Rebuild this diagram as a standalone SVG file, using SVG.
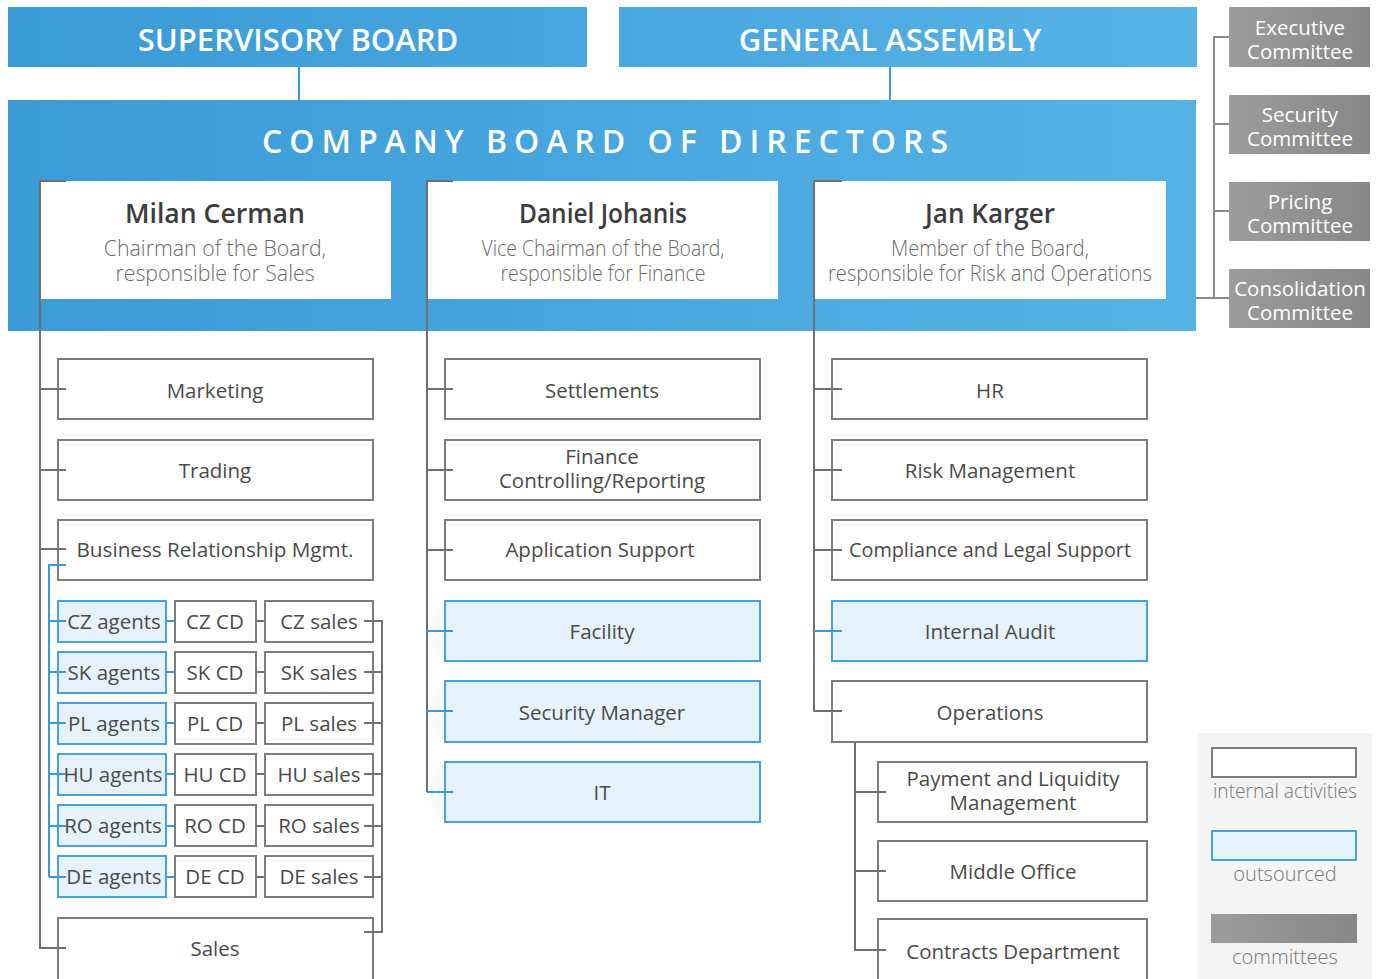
<svg xmlns="http://www.w3.org/2000/svg" width="1384" height="979" viewBox="0 0 1384 979">
<defs>
<linearGradient id="blueG" gradientUnits="userSpaceOnUse" x1="8" y1="0" x2="1197" y2="0">
<stop offset="0" stop-color="#3a9ad6"/><stop offset="1" stop-color="#56b3e6"/>
</linearGradient>
<linearGradient id="grayG" x1="0" y1="0" x2="1" y2="0">
<stop offset="0" stop-color="#9c9c9c"/><stop offset="1" stop-color="#878787"/>
</linearGradient>
<style>
text{font-family:"Open Sans","Noto Sans","Liberation Sans",sans-serif;}
.hdr{fill:#fff;font-size:31px;font-weight:600;text-anchor:middle;}
.ttl{fill:#fff;font-size:32px;font-weight:600;}
.name{fill:#3d3d3d;font-size:26.6px;font-weight:600;text-anchor:middle;}
.sub{fill:#6a6a6a;font-size:21.3px;font-weight:300;text-anchor:middle;}
.dep{fill:#4a4a4a;font-size:20.5px;text-anchor:middle;}
.com{fill:#fff;font-size:20.5px;text-anchor:middle;}
.leg{fill:#777;font-size:20px;font-weight:300;text-anchor:middle;}
.box{fill:#fff;stroke:#7d7d7d;stroke-width:2;}
.out{fill:#e6f2fb;stroke:#45a2de;stroke-width:2;}
.gl{stroke:#707070;stroke-width:2;fill:none;}
.bl{stroke:#3a9ad9;stroke-width:2;fill:none;}
.cm{fill:url(#grayG);}
</style>
</defs>

<!-- top boards -->
<g id="supervisory-board">
<rect x="8" y="7" width="579" height="60" fill="url(#blueG)"/>
<text class="hdr" x="298" y="51">SUPERVISORY BOARD</text>
</g>
<g id="general-assembly">
<rect x="619" y="7" width="578" height="60" fill="url(#blueG)"/>
<text class="hdr" x="890" y="51">GENERAL ASSEMBLY</text>
</g>
<g id="company-board">
<rect x="8" y="100" width="1188" height="231" fill="url(#blueG)"/>
<text class="ttl" x="262" y="153" textLength="686" lengthAdjust="spacing">COMPANY BOARD OF DIRECTORS</text>
</g>

<!-- board members -->
<g id="milan-cerman">
<rect x="41" y="181" width="350" height="118" fill="#fff"/>
<text class="name" x="215" y="223">Milan Cerman</text>
<text class="sub" x="215" y="256">Chairman of the Board,</text>
<text class="sub" x="215" y="281">responsible for Sales</text>
</g>
<g id="daniel-johanis">
<rect x="427" y="181" width="351" height="118" fill="#fff"/>
<text class="name" x="603" y="223" textLength="168" lengthAdjust="spacingAndGlyphs">Daniel Johanis</text>
<text class="sub" x="603" y="256" textLength="243" lengthAdjust="spacingAndGlyphs">Vice Chairman of the Board,</text>
<text class="sub" x="603" y="281" textLength="205" lengthAdjust="spacingAndGlyphs">responsible for Finance</text>
</g>
<g id="jan-karger">
<rect x="814" y="181" width="352" height="118" fill="#fff"/>
<text class="name" x="990" y="223" textLength="130" lengthAdjust="spacingAndGlyphs">Jan Karger</text>
<text class="sub" x="990" y="256" textLength="198" lengthAdjust="spacingAndGlyphs">Member of the Board,</text>
<text class="sub" x="990" y="281" textLength="324" lengthAdjust="spacingAndGlyphs">responsible for Risk and Operations</text>
</g>

<!-- committees -->
<g id="executive-committee">
<rect class="cm" x="1229" y="7" width="141" height="60"/>
<text class="com" x="1300" y="35">Executive</text>
<text class="com" x="1300" y="59">Committee</text>
</g>
<g id="security-committee">
<rect class="cm" x="1229" y="95" width="141" height="59"/>
<text class="com" x="1300" y="122">Security</text>
<text class="com" x="1300" y="146">Committee</text>
</g>
<g id="pricing-committee">
<rect class="cm" x="1229" y="182" width="141" height="59"/>
<text class="com" x="1300" y="209">Pricing</text>
<text class="com" x="1300" y="233">Committee</text>
</g>
<g id="consolidation-committee">
<rect class="cm" x="1229" y="269" width="141" height="59"/>
<text class="com" x="1300" y="296">Consolidation</text>
<text class="com" x="1300" y="320">Committee</text>
</g>

<!-- left column -->
<g id="marketing"><rect class="box" x="58" y="359" width="315" height="60"/><text class="dep" x="215" y="398">Marketing</text></g>
<g id="trading"><rect class="box" x="58" y="440" width="315" height="60"/><text class="dep" x="215" y="478">Trading</text></g>
<g id="brm"><rect class="box" x="58" y="520" width="315" height="60"/><text class="dep" x="215" y="557" textLength="277" lengthAdjust="spacingAndGlyphs">Business Relationship Mgmt.</text></g>

<g id="cz-agents"><rect class="out" x="58" y="601" width="108" height="41"/><text class="dep" x="114" y="629">CZ agents</text></g>
<g id="cz-cd"><rect class="box" x="175" y="601" width="81" height="41"/><text class="dep" x="215" y="629">CZ CD</text></g>
<g id="cz-sales"><rect class="box" x="265" y="601" width="108" height="41"/><text class="dep" x="319" y="629">CZ sales</text></g>

<g id="sk-agents"><rect class="out" x="58" y="652" width="108" height="41"/><text class="dep" x="114" y="680">SK agents</text></g>
<g id="sk-cd"><rect class="box" x="175" y="652" width="81" height="41"/><text class="dep" x="215" y="680">SK CD</text></g>
<g id="sk-sales"><rect class="box" x="265" y="652" width="108" height="41"/><text class="dep" x="319" y="680">SK sales</text></g>

<g id="pl-agents"><rect class="out" x="58" y="703" width="108" height="41"/><text class="dep" x="114" y="731">PL agents</text></g>
<g id="pl-cd"><rect class="box" x="175" y="703" width="81" height="41"/><text class="dep" x="215" y="731">PL CD</text></g>
<g id="pl-sales"><rect class="box" x="265" y="703" width="108" height="41"/><text class="dep" x="319" y="731">PL sales</text></g>

<g id="hu-agents"><rect class="out" x="58" y="754" width="108" height="41"/><text class="dep" x="113" y="782">HU agents</text></g>
<g id="hu-cd"><rect class="box" x="175" y="754" width="81" height="41"/><text class="dep" x="215" y="782">HU CD</text></g>
<g id="hu-sales"><rect class="box" x="265" y="754" width="108" height="41"/><text class="dep" x="319" y="782">HU sales</text></g>

<g id="ro-agents"><rect class="out" x="58" y="805" width="108" height="41"/><text class="dep" x="113" y="833">RO agents</text></g>
<g id="ro-cd"><rect class="box" x="175" y="805" width="81" height="41"/><text class="dep" x="215" y="833">RO CD</text></g>
<g id="ro-sales"><rect class="box" x="265" y="805" width="108" height="41"/><text class="dep" x="319" y="833">RO sales</text></g>

<g id="de-agents"><rect class="out" x="58" y="856" width="108" height="41"/><text class="dep" x="114" y="884">DE agents</text></g>
<g id="de-cd"><rect class="box" x="175" y="856" width="81" height="41"/><text class="dep" x="215" y="884">DE CD</text></g>
<g id="de-sales"><rect class="box" x="265" y="856" width="108" height="41"/><text class="dep" x="319" y="884">DE sales</text></g>

<g id="sales"><rect class="box" x="58" y="918" width="315" height="70"/><text class="dep" x="215" y="956">Sales</text></g>

<!-- middle column -->
<g id="settlements"><rect class="box" x="445" y="359" width="315" height="60"/><text class="dep" x="602" y="398">Settlements</text></g>
<g id="finance"><rect class="box" x="445" y="440" width="315" height="60"/><text class="dep" x="602" y="464">Finance</text><text class="dep" x="602" y="488">Controlling/Reporting</text></g>
<g id="application-support"><rect class="box" x="445" y="520" width="315" height="60"/><text class="dep" x="600" y="557">Application Support</text></g>
<g id="facility"><rect class="out" x="445" y="601" width="315" height="60"/><text class="dep" x="602" y="639">Facility</text></g>
<g id="security-manager"><rect class="out" x="445" y="681" width="315" height="61"/><text class="dep" x="602" y="720">Security Manager</text></g>
<g id="it"><rect class="out" x="445" y="762" width="315" height="60"/><text class="dep" x="602" y="800">IT</text></g>

<!-- right column -->
<g id="hr"><rect class="box" x="832" y="359" width="315" height="60"/><text class="dep" x="990" y="398">HR</text></g>
<g id="risk-management"><rect class="box" x="832" y="440" width="315" height="60"/><text class="dep" x="990" y="478">Risk Management</text></g>
<g id="compliance"><rect class="box" x="832" y="520" width="315" height="60"/><text class="dep" x="990" y="557" textLength="282" lengthAdjust="spacingAndGlyphs">Compliance and Legal Support</text></g>
<g id="internal-audit"><rect class="out" x="832" y="601" width="315" height="60"/><text class="dep" x="990" y="639">Internal Audit</text></g>
<g id="operations"><rect class="box" x="832" y="681" width="315" height="61"/><text class="dep" x="990" y="720">Operations</text></g>
<g id="payment-liquidity"><rect class="box" x="878" y="762" width="269" height="60"/><text class="dep" x="1013" y="786">Payment and Liquidity</text><text class="dep" x="1013" y="810">Management</text></g>
<g id="middle-office"><rect class="box" x="878" y="841" width="269" height="60"/><text class="dep" x="1013" y="879">Middle Office</text></g>
<g id="contracts"><rect class="box" x="878" y="919" width="269" height="70"/><text class="dep" x="1013" y="959">Contracts Department</text></g>

<!-- legend -->
<g id="legend">
<rect x="1197" y="733" width="175" height="250" fill="#f4f4f4"/>
<rect class="box" x="1212" y="748" width="144" height="29"/>
<text class="leg" x="1285" y="798" textLength="144" lengthAdjust="spacingAndGlyphs">internal activities</text>
<rect class="out" x="1212" y="831" width="144" height="29"/>
<text class="leg" x="1285" y="881">outsourced</text>
<rect class="cm" x="1211" y="914" width="146" height="29"/>
<text class="leg" x="1285" y="964">committees</text>
</g>

<!-- connectors -->
<g id="connectors">
<path class="bl" d="M299 67V100M890 67V100"/>
<path class="gl" style="stroke:#8a8a8a" d="M1229 37H1214V298M1214 124H1229M1214 211H1229M1196 298H1229"/>
<path class="gl" d="M66 181H40V948H66M40 389H66M40 470H66M40 549H66"/>
<path class="bl" d="M66 565H49V877M49 621H66M49 672H66M49 723H66M49 774H66M49 826H66M49 877H66"/>
<path class="bl" d="M166 621H175M166 672H175M166 723H175M166 774H175M166 826H175M166 877H175"/>
<path class="gl" d="M256 621H265M256 672H265M256 723H265M256 774H265M256 826H265M256 877H265"/>
<path class="gl" d="M364 621H382V932H364M364 672H382M364 723H382M364 774H382M364 826H382M364 877H382"/>
<path class="gl" d="M453 181H427V792M427 389H453M427 470H453M427 550H453"/>
<path class="bl" d="M427 631H453M427 711H453M427 792H453"/>
<path class="gl" d="M842 181H814V711H842M814 389H842M814 470H842M814 550H842"/>
<path class="bl" d="M814 631H842"/>
<path class="gl" d="M855 742V950H886M855 792H886M855 871H886"/>
</g>
</svg>
